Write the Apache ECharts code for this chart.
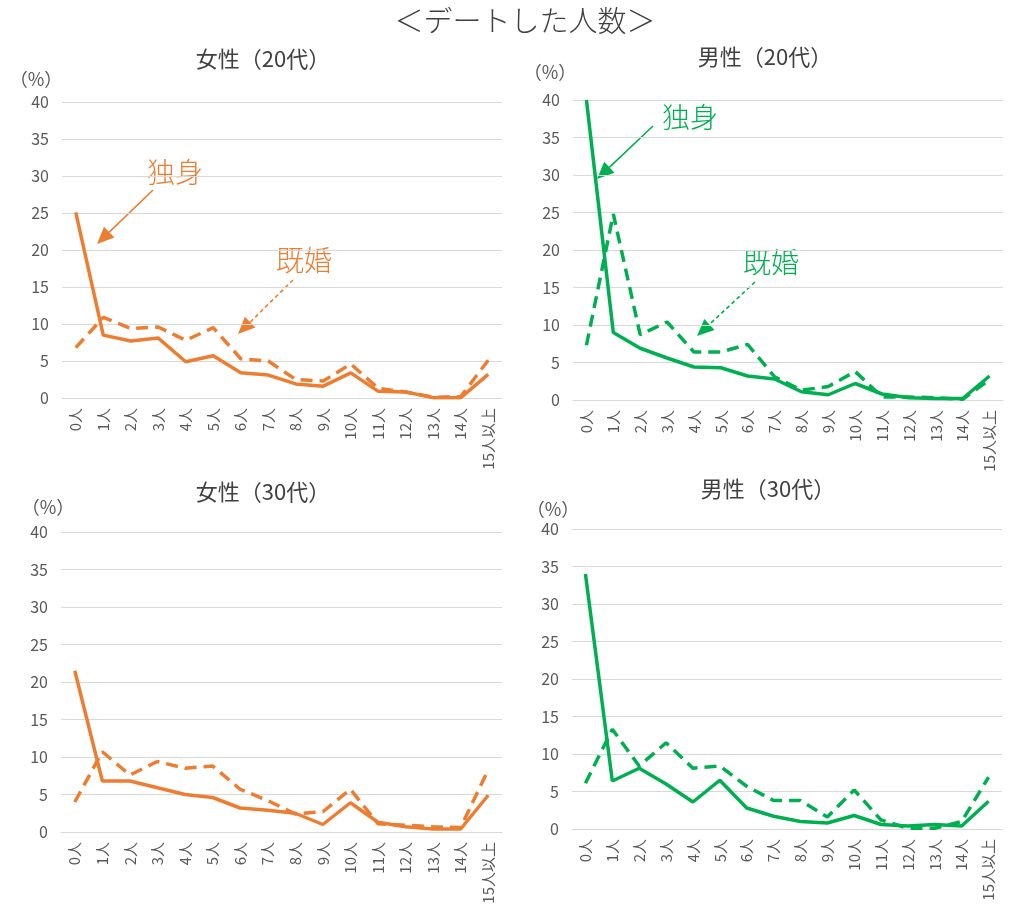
<!DOCTYPE html>
<html>
<head>
<meta charset="utf-8">
<script src="https://cdn.jsdelivr.net/npm/echarts@6/dist/echarts.min.js"></script>
<style>
  html, body { margin: 0; padding: 0; background: #fff; }
  #main { width: 1013px; height: 907px; }
</style>
</head>
<body>
<div id="main"></div>
<script>
// カテゴリ
var categories = ['0人', '1人', '2人', '3人', '4人', '5人', '6人', '7人', '8人', '9人',
  '10人', '11人', '12人', '13人', '14人', '15人以上'];
var yTicks = [0, 5, 10, 15, 20, 25, 30, 35, 40];

// 女性（20代）
var female20Single = [25.1, 8.5, 7.7, 8.1, 4.9, 5.7, 3.4, 3.1, 1.9, 1.6, 3.4, 0.9, 0.8, 0.05, 0.05, 3.2];
var female20Married = [6.8, 10.9, 9.4, 9.6, 7.8, 9.5, 5.3, 5.0, 2.5, 2.3, 4.6, 1.3, 0.8, 0.1, 0.2, 5.1];
// 男性（20代）
var male20Single = [40.0, 9.0, 6.9, 5.6, 4.4, 4.3, 3.2, 2.8, 1.1, 0.7, 2.2, 0.8, 0.3, 0.2, 0.2, 3.2];
var male20Married = [7.3, 24.8, 8.7, 10.4, 6.4, 6.4, 7.4, 3.1, 1.3, 1.8, 3.8, 0.4, 0.4, 0.3, 0.1, 2.7];
// 女性（30代）
var female30Single = [21.5, 6.8, 6.8, 5.9, 5.0, 4.6, 3.2, 2.9, 2.5, 1.0, 3.9, 1.3, 0.7, 0.4, 0.4, 4.9];
var female30Married = [4.0, 10.7, 7.6, 9.4, 8.5, 8.8, 5.7, 4.2, 2.4, 2.7, 5.7, 1.1, 0.9, 0.7, 0.6, 8.3];
// 男性（30代）
var male30Single = [34.0, 6.4, 8.1, 6.0, 3.6, 6.5, 2.8, 1.7, 1.0, 0.8, 1.8, 0.6, 0.4, 0.6, 0.4, 3.7];
var male30Married = [6.1, 13.3, 8.4, 11.5, 8.1, 8.4, 5.7, 3.8, 3.8, 1.6, 5.2, 1.2, 0.1, 0.1, 1.0, 6.9];

var ORANGE = '#ED7D31';
var GREEN = '#00B050';
var FONT = '"Noto Sans CJK JP", "Noto Sans", sans-serif';

var chart = echarts.init(document.getElementById('main'), null, { renderer: 'canvas' });

var grids = [
  { left: 62, top: 102, width: 440, height: 296 },
  { left: 573, top: 100, width: 430, height: 300 },
  { left: 61, top: 532, width: 441, height: 300 },
  { left: 572, top: 529, width: 430, height: 300 }
];

var xAxes = grids.map(function (g, i) {
  return {
    type: 'category',
    gridIndex: i,
    data: categories,
    boundaryGap: true,
    axisLine: { show: true, lineStyle: { color: '#d9d9d9' } },
    axisTick: { show: false },
    axisLabel: {
      rotate: 90,
      margin: 10,
      interval: 0,
      color: '#595959',
      fontSize: 15,
      fontFamily: FONT
    }
  };
});

var yAxes = grids.map(function (g, i) {
  return {
    type: 'value',
    gridIndex: i,
    min: yTicks[0],
    max: yTicks[yTicks.length - 1],
    interval: 5,
    axisLine: { show: false },
    axisTick: { show: false },
    splitLine: { lineStyle: { color: '#d9d9d9', width: 1 } },
    axisLabel: { color: '#595959', fontSize: 16, margin: 13, fontFamily: FONT }
  };
});

function lineSeries(idx, data, color, dashed) {
  return {
    type: 'line',
    xAxisIndex: idx,
    yAxisIndex: idx,
    data: data,
    symbol: 'none',
    lineStyle: { color: color, width: 3.5, type: dashed ? [12, 7] : 'solid', cap: 'butt' },
    z: dashed ? 3 : 4
  };
}

// 注釈の矢印
function arrow(x1, y1, x2, y2, color, dashed) {
  var dx = x2 - x1, dy = y2 - y1;
  var len = Math.sqrt(dx * dx + dy * dy);
  var ux = dx / len, uy = dy / len;
  var bx = x2 - ux * 17, by = y2 - uy * 17;
  var px = -uy * 7.5, py = ux * 7.5;
  return [
    {
      type: 'line',
      shape: { x1: x1, y1: y1, x2: bx, y2: by },
      style: { stroke: color, lineWidth: 1.6, lineDash: dashed ? [4, 3] : null }
    },
    {
      type: 'polygon',
      shape: { points: [[x2, y2], [bx + px, by + py], [bx - px, by - py]] },
      style: { fill: color }
    }
  ];
}

function txt(x, y, text, size, color, weight) {
  return {
    type: 'text',
    x: x, y: y,
    style: {
      text: text, fill: color, font: (weight || 'normal') + ' ' + size + 'px ' + FONT,
      align: 'center', verticalAlign: 'middle'
    }
  };
}

var graphics = [
  txt(525, 21, '＜デートした人数＞', 29, '#404040', 300),
  txt(263, 59, '女性（20代）', 22, '#404040'),
  txt(765, 57, '男性（20代）', 22, '#404040'),
  txt(263, 492, '女性（30代）', 22, '#404040'),
  txt(768, 489, '男性（30代）', 22, '#404040'),
  txt(36, 79, '（%）', 18, '#595959'),
  txt(550, 72, '（%）', 18, '#595959'),
  txt(48, 507, '（%）', 18, '#595959'),
  txt(553, 509, '（%）', 18, '#595959'),
  txt(175, 172, '独身', 28, ORANGE, 300),
  txt(304, 260, '既婚', 28, ORANGE, 300),
  txt(690, 117, '独身', 28, GREEN, 300),
  txt(771, 262, '既婚', 28, GREEN, 300)
]
  .concat(arrow(153, 190, 97, 244, ORANGE, false))
  .concat(arrow(293, 280, 238, 334, ORANGE, true))
  .concat(arrow(653, 126, 597, 179, GREEN, false))
  .concat(arrow(755, 282, 697, 336, GREEN, true));

var option = {
  backgroundColor: '#ffffff',
  animation: false,
  grid: grids,
  xAxis: xAxes,
  yAxis: yAxes,
  series: [
    lineSeries(0, female20Married, ORANGE, true),
    lineSeries(0, female20Single, ORANGE, false),
    lineSeries(1, male20Married, GREEN, true),
    lineSeries(1, male20Single, GREEN, false),
    lineSeries(2, female30Married, ORANGE, true),
    lineSeries(2, female30Single, ORANGE, false),
    lineSeries(3, male30Married, GREEN, true),
    lineSeries(3, male30Single, GREEN, false)
  ],
  graphic: graphics
};

chart.setOption(option);
</script>
</body>
</html>
